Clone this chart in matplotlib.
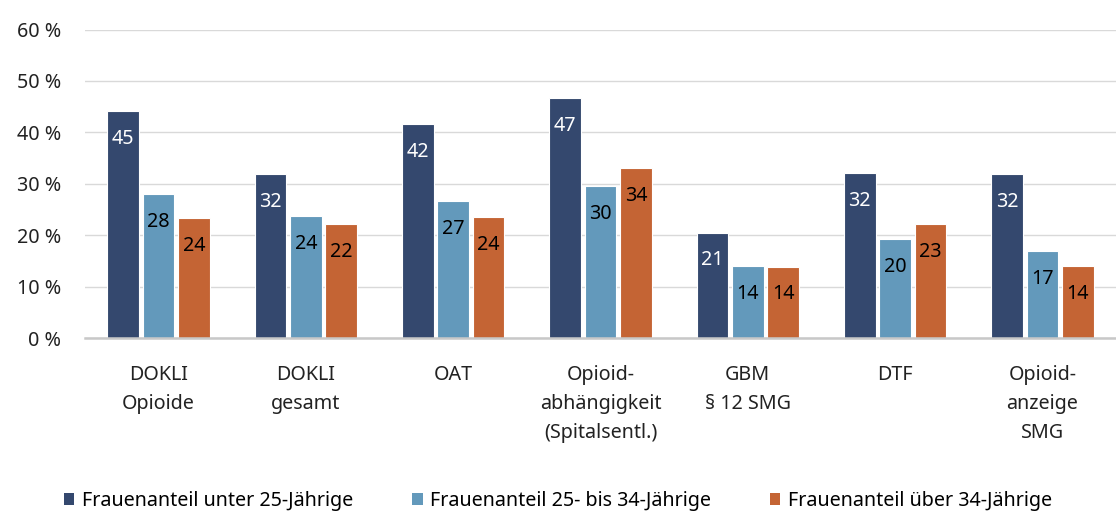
import numpy as np
import matplotlib.pyplot as plt
from matplotlib.patches import Patch

plt.rcParams['font.family'] = ['Noto Sans', 'DejaVu Sans']

categories = ['DOKLI\nOpioide', 'DOKLI\ngesamt', 'OAT',
              'Opioid-\nabhängigkeit\n(Spitalsentl.)', 'GBM\n§ 12 SMG', 'DTF',
              'Opioid-\nanzeige\nSMG']
series_names = ['Frauenanteil unter 25-Jährige',
                'Frauenanteil 25- bis 34-Jährige',
                'Frauenanteil über 34-Jährige']
under25 = [44.1, 31.8, 41.6, 46.7, 20.5, 32.0, 31.8]
age25_34 = [28.0, 23.7, 26.6, 29.5, 14.0, 19.3, 16.9]
over34 = [23.3, 22.1, 23.5, 33.1, 13.9, 22.2, 14.0]
labels_under25 = [45, 32, 42, 47, 21, 32, 32]
labels_25_34 = [28, 24, 27, 30, 14, 20, 17]
labels_over34 = [24, 22, 24, 34, 14, 23, 14]

colors = ['#34486E', '#6399BB', '#C46434']
text_colors = ['white', 'black', 'black']
fs = 14.2

fig = plt.figure(figsize=(11.16, 5.16), dpi=100)
ax = fig.add_axes([85 / 1116, 1 - 338 / 516, (1116 - 85) / 1116, (338 - 29.5) / 516])

x = np.arange(len(categories))
step = 0.24
width = 0.215
all_vals = [under25, age25_34, over34]
all_labels = [labels_under25, labels_25_34, labels_over34]
for i, (vals, labs) in enumerate(zip(all_vals, all_labels)):
    pos = x + (i - 1) * step
    ax.bar(pos, vals, width=width, color=colors[i], edgecolor='white',
           linewidth=0.8, zorder=3)
    for px, v, lab in zip(pos, vals, labs):
        ax.annotate(str(lab), (px, v), xytext=(0, -20), textcoords='offset points',
                    ha='center', va='center', fontsize=fs, color=text_colors[i],
                    zorder=4)

ax.set_xlim(-0.5, len(categories) - 0.5)
ax.set_ylim(0, 60)
ax.set_yticks(range(0, 61, 10))
ax.set_yticklabels([f'{t} %' for t in range(0, 61, 10)], fontsize=fs, color='#222222')
ax.set_xticks(x)
ax.set_xticklabels(categories, fontsize=fs, color='#222222', linespacing=1.6)
ax.tick_params(axis='both', length=0)
ax.tick_params(axis='y', pad=17)
ax.tick_params(axis='x', pad=19.5)
ax.grid(axis='y', color='#D9D9D9', linewidth=1.0, zorder=0)
for s in ['top', 'right', 'left']:
    ax.spines[s].set_visible(False)
ax.spines['bottom'].set_color('#C8C8C8')
ax.spines['bottom'].set_linewidth(1.8)
ax.spines['bottom'].set_zorder(5)

handles = [Patch(facecolor=c, edgecolor='none') for c in colors]
fig.legend(handles, series_names, loc='center', bbox_to_anchor=(0.5, 1 - 501 / 516),
           ncol=3, frameon=False, fontsize=fs, handlelength=0.55, handleheight=0.55,
           handletextpad=0.4, columnspacing=2.95)

fig.savefig('out.png', dpi=100)
